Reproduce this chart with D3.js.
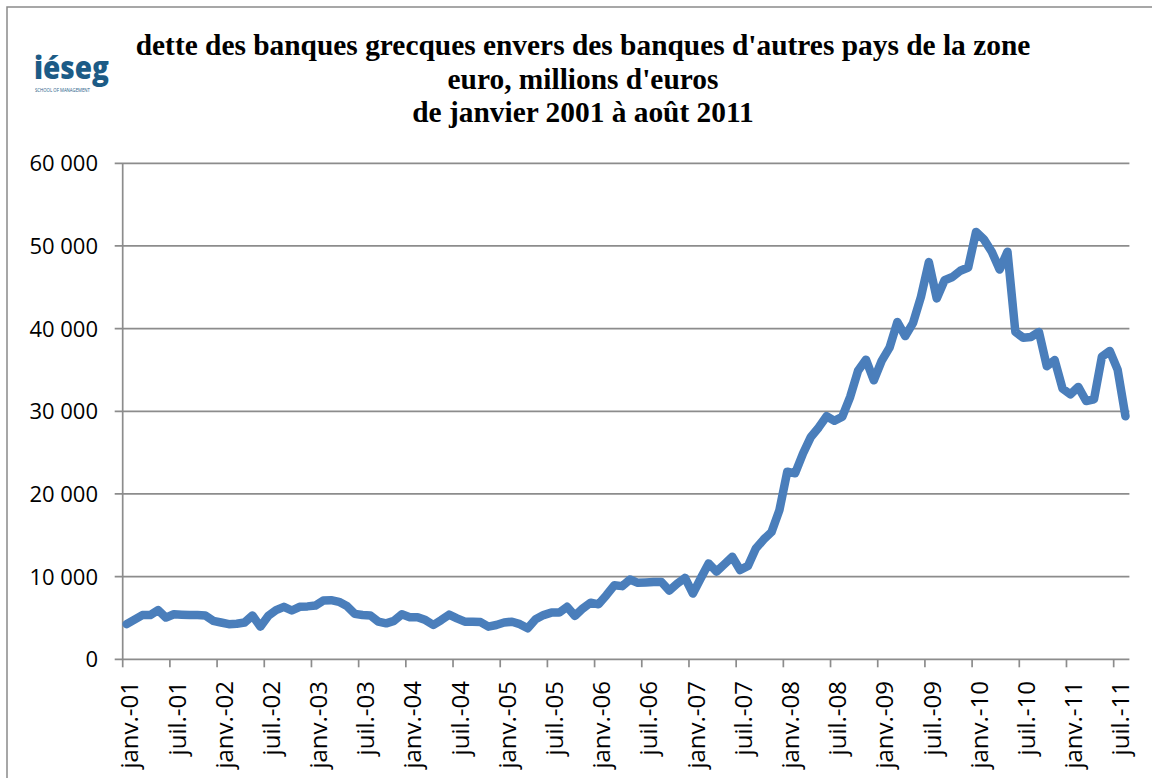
<!DOCTYPE html>
<html>
<head>
<meta charset="utf-8">
<script src="https://cdn.jsdelivr.net/npm/d3@7"></script>
<style>
	html, body { margin: 0; padding: 0; background: #fff; }
	svg { display: block; }
</style>
</head>
<body>
<svg id="chart" width="1152" height="778"></svg>
<script>
// title lines
const titleLines = [
	"dette des banques grecques envers des banques d'autres pays de la zone",
	"euro, millions d'euros",
	"de janvier 2001 à août 2011"
];

// x axis labels, one every 6 months starting janv.-01
const tickLabels = [
	"janv.-01", "juil.-01", "janv.-02", "juil.-02", "janv.-03", "juil.-03",
	"janv.-04", "juil.-04", "janv.-05", "juil.-05", "janv.-06", "juil.-06",
	"janv.-07", "juil.-07", "janv.-08", "juil.-08", "janv.-09", "juil.-09",
	"janv.-10", "juil.-10", "janv.-11", "juil.-11"
];

const yTicks = [0, 10000, 20000, 30000, 40000, 50000, 60000];

// monthly values, janv. 2001 -> août 2011 (millions d'euros)
const values2001 = [4250, 4800, 5350, 5350, 5950, 5050, 5450, 5400, 5350, 5350, 5300, 4650];
const values2002 = [4450, 4250, 4300, 4450, 5300, 3950, 5250, 5950, 6350, 5900, 6350, 6400];
const values2003 = [6500, 7100, 7150, 6950, 6450, 5500, 5350, 5300, 4550, 4350, 4650, 5450];
const values2004 = [5100, 5100, 4750, 4150, 4750, 5400, 4950, 4550, 4550, 4500, 3950, 4150];
const values2005 = [4450, 4550, 4250, 3750, 4850, 5350, 5650, 5650, 6350, 5250, 6150, 6850];
const values2006 = [6650, 7750, 8950, 8850, 9650, 9250, 9300, 9350, 9350, 8300, 9150, 9850];
const values2007 = [7950, 9800, 11600, 10600, 11500, 12400, 10800, 11300, 13400, 14500, 15400, 18050];
const values2008 = [22700, 22500, 24900, 26900, 28050, 29400, 28850, 29350, 31750, 34900, 36250, 33750];
const values2009 = [36100, 37700, 40800, 39100, 40700, 43850, 48050, 43650, 45850, 46250, 47000, 47400];
const values2010 = [51700, 50800, 49300, 47150, 49300, 39600, 38900, 39000, 39600, 35450, 36200, 32750];
const values2011 = [32050, 32950, 31250, 31450, 36600, 37300, 35050, 29400];

const values = [].concat(values2001, values2002, values2003, values2004, values2005,
	values2006, values2007, values2008, values2009, values2010, values2011);

const svg = d3.select("#chart");

const plot = { left: 122.7, right: 1129.4, top: 163.3, bottom: 659.3 };

const x = d3.scaleBand()
	.domain(d3.range(values.length))
	.range([plot.left, plot.right])
	.padding(0);

const y = d3.scaleLinear()
	.domain([0, 60000])
	.range([plot.bottom, plot.top]);

const fr = d3.formatLocale({ decimal: ",", thousands: "\u00a0", grouping: [3], currency: ["", "€"] });
const fmt = fr.format(",d");

// outer frame (only left and top visible in the picture)
svg.append("rect")
	.attr("x", 7)
	.attr("y", 7)
	.attr("width", 1170)
	.attr("height", 800)
	.attr("fill", "none")
	.attr("stroke", "#8a8a8a")
	.attr("stroke-width", 1.5);

// logo
const logo = svg.append("g").attr("fill", "#1c5b86");
logo.append("text")
	.attr("x", 34)
	.attr("y", 79)
	.attr("font-family", "Open Sans")
	.attr("font-weight", 800)
	.attr("font-size", 32)
	.attr("textLength", 75)
	.attr("lengthAdjust", "spacingAndGlyphs")
	.text("iéseg");
logo.append("text")
	.attr("x", 35)
	.attr("y", 92)
	.attr("font-family", "Open Sans")
	.attr("font-size", 4.5)
	.attr("textLength", 55)
	.attr("lengthAdjust", "spacingAndGlyphs")
	.text("SCHOOL OF MANAGEMENT");

// title
svg.append("g")
	.selectAll("text")
	.data(titleLines).enter()
	.append("text")
	.attr("x", 583)
	.attr("y", (d, i) => 55 + i * 33.5)
	.attr("text-anchor", "middle")
	.attr("font-family", "Liberation Serif")
	.attr("font-weight", "bold")
	.attr("font-size", 29.4)
	.text(d => d);

// horizontal grid lines + y ticks
const grid = svg.append("g").classed("grid", true);
grid.selectAll("line")
	.data(yTicks).enter()
	.append("line")
	.attr("x1", plot.left - 8)
	.attr("x2", plot.right)
	.attr("y1", d => y(d))
	.attr("y2", d => y(d))
	.attr("stroke", "#8c8c8c")
	.attr("stroke-width", 1.7);

// y axis line
svg.append("line")
	.attr("x1", plot.left)
	.attr("x2", plot.left)
	.attr("y1", plot.top)
	.attr("y2", plot.bottom)
	.attr("stroke", "#8c8c8c")
	.attr("stroke-width", 1.7);

// y labels
svg.append("g")
	.selectAll("text")
	.data(yTicks).enter()
	.append("text")
	.attr("x", 98)
	.attr("y", d => y(d))
	.attr("dy", "0.36em")
	.attr("text-anchor", "end")
	.attr("font-family", "Open Sans")
	.attr("font-size", 22)
	.attr("fill", "#000")
	.text(d => fmt(d));

// x ticks, every 6 months
const tickIdx = tickLabels.map((d, i) => i * 6);
svg.append("g")
	.selectAll("line")
	.data(tickIdx).enter()
	.append("line")
	.attr("x1", d => x(d))
	.attr("x2", d => x(d))
	.attr("y1", plot.bottom)
	.attr("y2", plot.bottom + 8)
	.attr("stroke", "#8c8c8c")
	.attr("stroke-width", 1.7);

// x labels, rotated
svg.append("g")
	.selectAll("text")
	.data(tickIdx).enter()
	.append("text")
	.attr("transform", d => `translate(${x(d) + 7},681) rotate(-90)`)
	.attr("dy", "0.36em")
	.attr("text-anchor", "end")
	.attr("font-family", "Open Sans")
	.attr("font-size", 24)
	.attr("fill", "#000")
	.text((d, i) => tickLabels[i]);

// the series
const line = d3.line()
	.x((d, i) => x(i) + x.bandwidth() / 2)
	.y(d => y(d));

svg.append("path")
	.datum(values)
	.attr("d", line)
	.attr("fill", "none")
	.attr("stroke", "#4a7ebb")
	.attr("stroke-width", 8.5)
	.attr("stroke-linejoin", "round")
	.attr("stroke-linecap", "round");
</script>
</body>
</html>
